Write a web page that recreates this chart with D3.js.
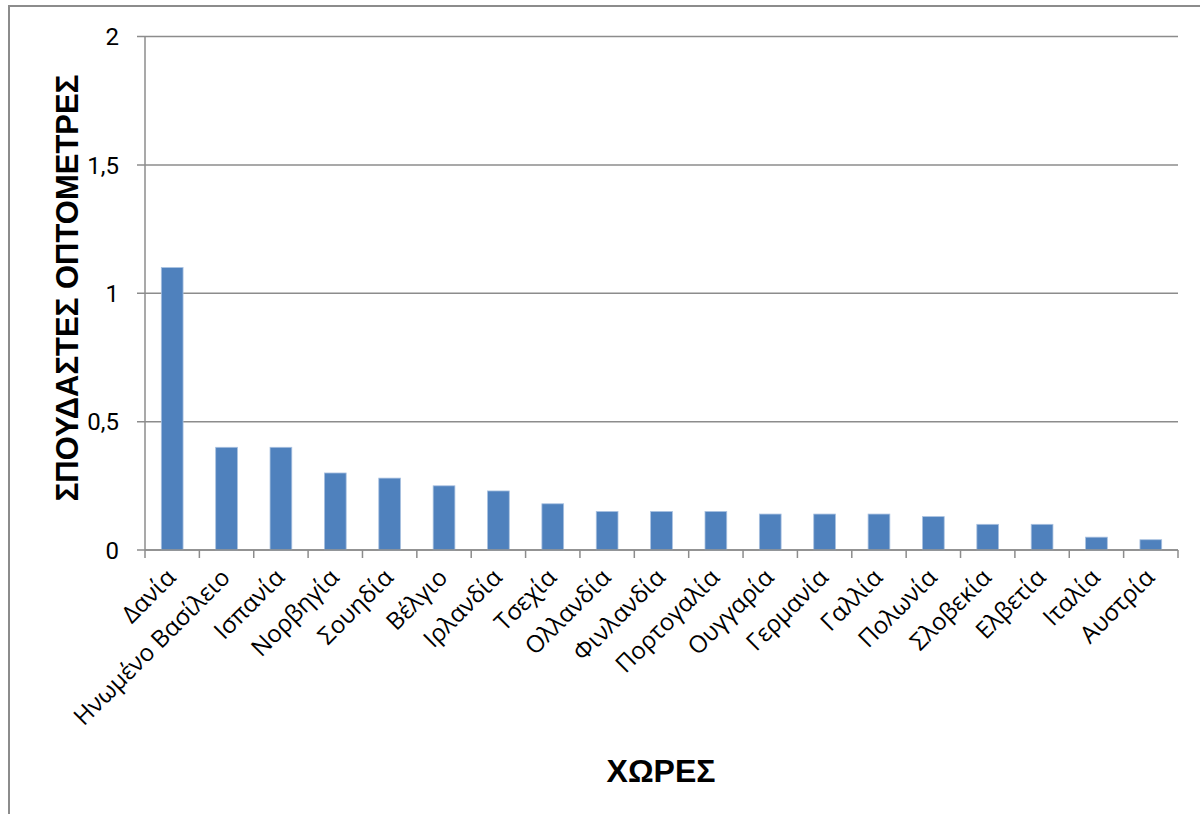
<!DOCTYPE html>
<html><head><meta charset="utf-8">
<script src="https://cdn.jsdelivr.net/npm/d3@7"></script>
<style>body{margin:0;background:#fff}</style>
</head><body>
<svg id="c" width="1200" height="814"></svg>
<script>
const categories = ["Δανία","Ηνωμένο Βασίλειο","Ισπανία","Νορβηγία","Σουηδία","Βέλγιο","Ιρλανδία","Τσεχία","Ολλανδία","Φινλανδία","Πορτογαλία","Ουγγαρία","Γερμανία","Γαλλία","Πολωνία","Σλοβεκία","Ελβετία","Ιταλία","Αυστρία"];
const values = [1.1,0.4,0.4,0.3,0.28,0.25,0.23,0.18,0.15,0.15,0.15,0.14,0.14,0.14,0.13,0.1,0.1,0.05,0.04];
const yTicks = [0,0.5,1,1.5,2];
const yTickLabels = ["0","0,5","1","1,5","2"];
const yTitle = "ΣΠΟΥΔΑΣΤΕΣ ΟΠΤΟΜΕΤΡΕΣ";
const xTitle = "ΧΩΡΕΣ";

const svg = d3.select("#c");
// outer frame
svg.append("rect").attr("x",9).attr("y",6).attr("width",1300).attr("height",900)
  .attr("fill","none").attr("stroke","#8c8c8c").attr("stroke-width",2);

const x0 = 145, x1 = 1178, yTop = 36.5, yBot = 550;
const x = d3.scaleBand().domain(categories).range([x0,x1]).paddingInner(0.6).paddingOuter(0.3);
const xb = d3.scaleBand().domain(categories).range([x0,x1]);
const y = d3.scaleLinear().domain([0,2]).range([yBot,yTop]);

// gridlines
svg.append("g").selectAll("line").data(yTicks).join("line")
  .attr("x1",137).attr("x2",x1).attr("y1",d=>y(d)).attr("y2",d=>y(d))
  .attr("stroke","#8c8c8c").attr("stroke-width",1.5);
// y axis line
svg.append("line").attr("x1",x0).attr("x2",x0).attr("y1",yTop).attr("y2",yBot)
  .attr("stroke","#8c8c8c").attr("stroke-width",1.5);
// y labels
svg.append("g").selectAll("text").data(yTicks).join("text")
  .attr("x",119).attr("y",d=>y(d)).attr("dy","0.36em").attr("text-anchor","end")
  .attr("font-family","Roboto, Arial, sans-serif").attr("font-size",24).attr("fill","#000")
  .text((d,i)=>yTickLabels[i]);

// bars
svg.append("g").selectAll("rect").data(values).join("rect")
  .attr("x",(d,i)=>x(categories[i])).attr("width",x.bandwidth())
  .attr("y",d=>y(d)).attr("height",d=>yBot-y(d))
  .attr("fill","#4F81BD").attr("stroke","#a9c1e0").attr("stroke-width",0.8);

// x axis line + ticks
svg.append("line").attr("x1",x0).attr("x2",x1).attr("y1",yBot).attr("y2",yBot)
  .attr("stroke","#8c8c8c").attr("stroke-width",1.5);
const tickPos = categories.map(c=>xb(c)).concat([x1]);
svg.append("g").selectAll("line").data(tickPos).join("line")
  .attr("x1",d=>d).attr("x2",d=>d).attr("y1",yBot).attr("y2",yBot+8)
  .attr("stroke","#8c8c8c").attr("stroke-width",1.5);

// x labels
svg.append("g").selectAll("text").data(categories).join("text")
  .attr("transform",d=>`translate(${xb(d)+xb.bandwidth()/2+5},${yBot+29}) rotate(-45)`)
  .attr("text-anchor","end").attr("font-family","'Open Sans', sans-serif").attr("font-size",24)
  .attr("fill","#000").text(d=>d);

// titles
svg.append("text").attr("transform",`translate(78,${288}) rotate(-90)`)
  .attr("text-anchor","middle").attr("font-family","Arial, 'Liberation Sans', sans-serif")
  .attr("font-weight","bold").attr("font-size",31).text(yTitle);
svg.append("text").attr("x",661).attr("y",782).attr("text-anchor","middle")
  .attr("font-family","Arial, 'Liberation Sans', sans-serif")
  .attr("font-weight","bold").attr("font-size",32).text(xTitle);
</script>
</body></html>
